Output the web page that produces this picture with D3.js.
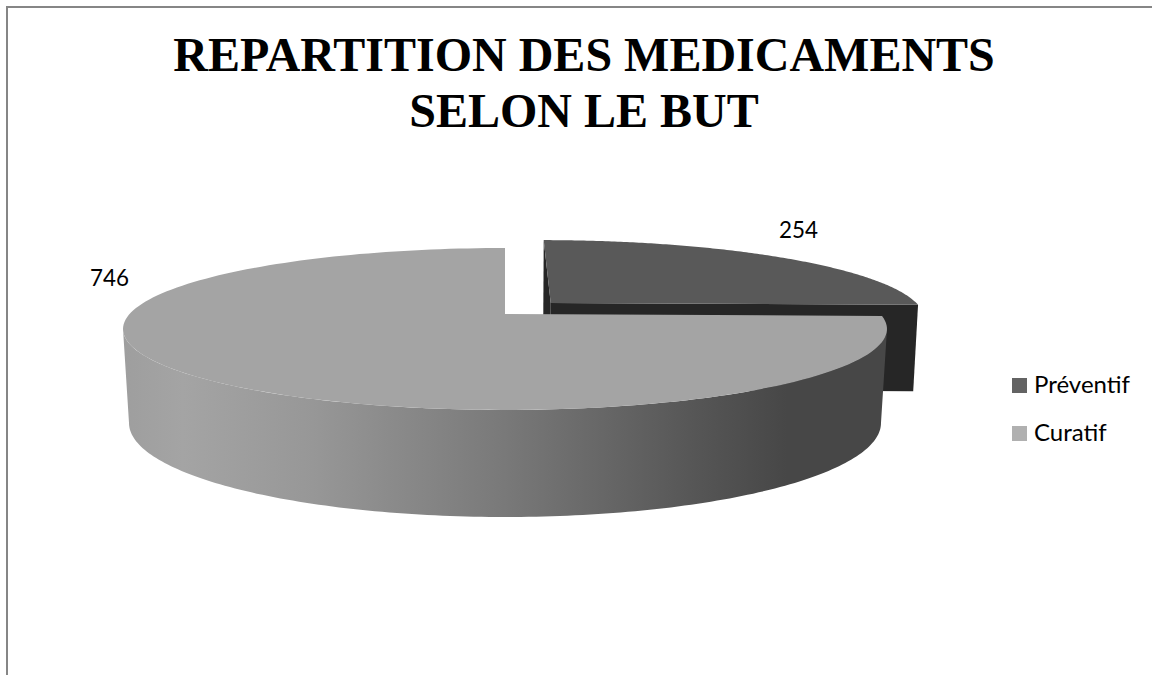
<!DOCTYPE html>
<html>
<head>
<meta charset="utf-8">
<script src="https://cdn.jsdelivr.net/npm/d3@7"></script>
<style>
    html, body { margin: 0; padding: 0; background: #fff; overflow: hidden; }
    svg { display: block; }
</style>
</head>
<body>
<div id="chart"></div>
<script>
const titre = ["REPARTITION DES MEDICAMENTS", "SELON LE BUT"];
const categories = ["Préventif", "Curatif"];
const valeurs = [254, 746];

const svgWidth = 1152, svgHeight = 675;

const svg = d3.select("#chart")
    .append("svg")
    .attr("width", svgWidth)
    .attr("height", svgHeight);

// Cadre (pas de bord droit ni bas visibles)
svg.append("path")
    .attr("d", d3.line()([[7, svgHeight], [7, 7], [svgWidth, 7]]))
    .attr("fill", "none")
    .attr("stroke", "#868686")
    .attr("stroke-width", 2);

// Titre
svg.append("g").selectAll("text")
    .data(titre)
    .join("text")
    .attr("x", 584)
    .attr("y", (d, i) => 70.5 + i * 56)
    .attr("text-anchor", "middle")
    .attr("font-family", "'Liberation Serif', serif")
    .attr("font-weight", "bold")
    .attr("font-size", 48)
    .attr("fill", "#000")
    .text(d => d);

// Projection perspective du disque: plan du haut et plan du bas
const centreX = 505;
const fuite = 0.185;
const planHaut = { cy: 314, a: 78.2, b: 375.4 };
const planBas = { cy: 405.6, a: 90.8, b: 369.5 };
const planBasPrev = { cy: 402, a: 90.8, b: 371 };

function projeter(plan, u, v) {
    const w = 1 + fuite * v;
    return [centreX + plan.b * u / w, plan.cy - plan.a * v / w];
}

function pointArc(plan, angle, dx, dv) {
    return projeter(plan, Math.sin(angle) + dx, Math.cos(angle) + dv);
}

function arcPoints(plan, debut, fin, dx, dv) {
    const n = 160;
    return d3.range(n + 1).map(i => pointArc(plan, debut + (fin - debut) * i / n, dx, dv));
}

const ligne = d3.line();
const fermer = pts => ligne(pts) + "Z";

const parts = d3.pie().sort(null)(valeurs);
const prev = parts[0], cur = parts[1];

// Dégradé de la tranche extérieure
const degrade = svg.append("defs").append("linearGradient")
    .attr("id", "flanc")
    .attr("gradientUnits", "userSpaceOnUse")
    .attr("x1", 122).attr("x2", 886)
    .attr("y1", 0).attr("y2", 0);

[[0, "#9e9e9e"], [0.08, "#a4a4a4"], [0.25, "#979797"], [0.5, "#797979"], [0.75, "#565656"], [0.87, "#474747"], [1, "#474747"]]
    .forEach(s => degrade.append("stop").attr("offset", s[0]).attr("stop-color", s[1]));

// Part Préventif, décalée du centre
const ecartU = 0.125, ecartV = 0.145;
const gPrev = svg.append("g");
const sommet = plan => projeter(plan, ecartU, ecartV);

// parois intérieures
[prev.startAngle, prev.endAngle].forEach(angle => {
    gPrev.append("path")
        .attr("d", fermer([
            sommet(planHaut),
            pointArc(planHaut, angle, ecartU, ecartV),
            pointArc(planBasPrev, angle, ecartU, ecartV),
            sommet(planBasPrev)
        ]))
        .attr("fill", "#262626");
});

gPrev.append("path")
    .attr("d", fermer([sommet(planHaut)].concat(arcPoints(planHaut, prev.startAngle, prev.endAngle, ecartU, ecartV))))
    .attr("fill", "#595959");

// Part Curatif
const gCur = svg.append("g");
const bord = Math.acos(-fuite);

gCur.append("path")
    .attr("d", fermer(
        arcPoints(planHaut, bord, 2 * Math.PI - bord, 0, 0)
            .concat(arcPoints(planBas, bord, 2 * Math.PI - bord, 0, 0).reverse())
    ))
    .attr("fill", "url(#flanc)");

gCur.append("path")
    .attr("d", fermer([projeter(planHaut, 0, 0)].concat(arcPoints(planHaut, cur.startAngle, cur.endAngle, 0, 0))))
    .attr("fill", "#a4a4a4");

// Etiquettes de valeurs
const policeTexte = "Lato, 'Open Sans', sans-serif";

svg.append("text")
    .attr("x", 779).attr("y", 238)
    .attr("font-family", policeTexte)
    .attr("font-size", 24)
    .attr("textLength", 39)
    .attr("lengthAdjust", "spacingAndGlyphs")
    .attr("fill", "#000")
    .text(valeurs[0]);

svg.append("text")
    .attr("x", 90).attr("y", 286)
    .attr("font-family", policeTexte)
    .attr("font-size", 24)
    .attr("textLength", 39)
    .attr("lengthAdjust", "spacingAndGlyphs")
    .attr("fill", "#000")
    .text(valeurs[1]);

// Légende
const couleursLegende = ["#636363", "#b0b0b0"];
const legende = svg.append("g")
    .attr("transform", "translate(1012, 378)");

categories.forEach((c, i) => {
    legende.append("rect")
        .attr("y", i * 48)
        .attr("width", 15)
        .attr("height", 15)
        .attr("fill", couleursLegende[i]);
    legende.append("text")
        .attr("x", 22)
        .attr("y", 15 + i * 48)
        .attr("font-family", policeTexte)
        .attr("font-size", 24)
        .attr("fill", "#000")
        .text(c);
});
</script>
</body>
</html>
